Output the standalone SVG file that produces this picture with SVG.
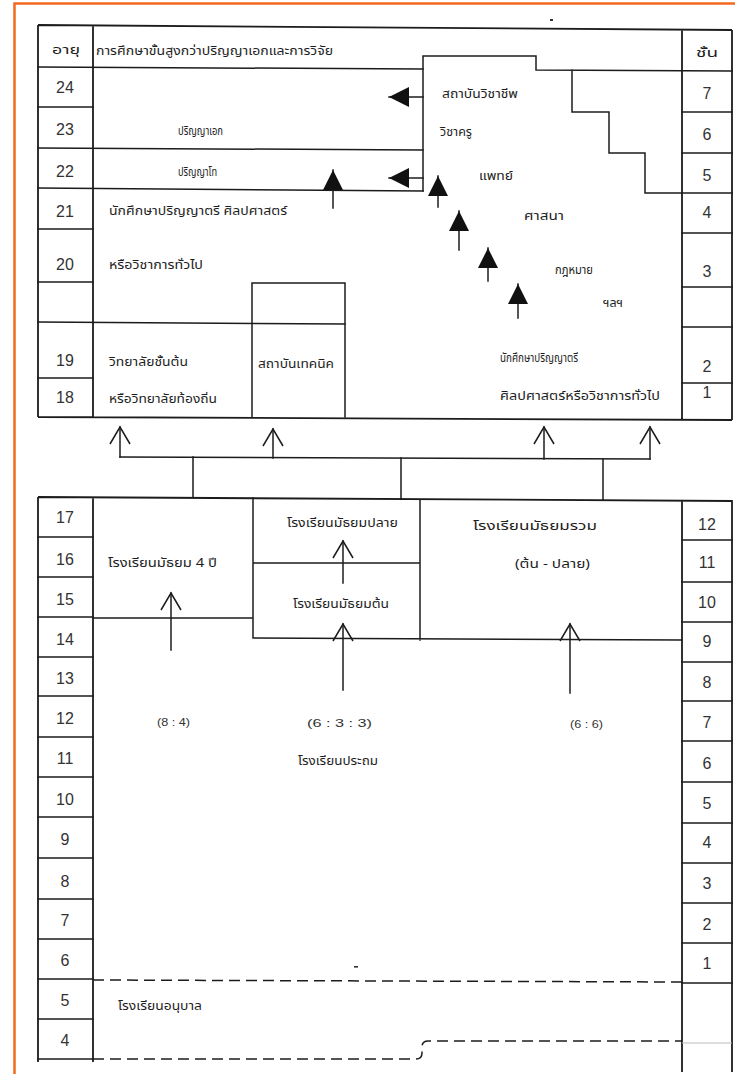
<svg xmlns="http://www.w3.org/2000/svg" width="735" height="1074" viewBox="0 0 735 1074">
<style>
.ln{stroke:#1c1c1c;stroke-width:1.5;fill:none;stroke-linecap:square}
.fr{stroke:#1c1c1c;stroke-width:1.8;fill:none}
.dsh{stroke:#1c1c1c;stroke-width:1.5;fill:none;stroke-dasharray:11 6}
.num{font-family:"Liberation Sans",Arial,sans-serif;font-size:16px;fill:#333;text-anchor:middle}
.th{font-family:"Noto Sans Thai","Noto Sans Thai Looped","Loma","Garuda","Norasi","Kinnari","Tlwg Typo","DejaVu Sans","Noto Sans",sans-serif;font-size:12px;fill:#1e1e1e}
.pr{font-family:"Liberation Sans",Arial,sans-serif;font-size:11px;fill:#333}
</style>
<defs>
<marker id="open" viewBox="-20 -12 22 24" refX="0" refY="0" markerWidth="22" markerHeight="24" markerUnits="userSpaceOnUse" orient="auto">
<path d="M-17,-10 L0,0 L-17,10" fill="none" stroke="#1c1c1c" stroke-width="1.5"/>
</marker>
<marker id="solid" viewBox="-21 -11 22 22" refX="0" refY="0" markerWidth="22" markerHeight="22" markerUnits="userSpaceOnUse" orient="auto">
<path d="M-20,-10 L0,0 L-20,10 Z" fill="#111"/>
</marker>
</defs>
<rect width="735" height="1074" fill="#fff"/>
<rect x="14.5" y="3.5" width="730" height="1080" fill="none" stroke="#F26A1E" stroke-width="2.5"/>

<g id="top-section">
<path class="fr" d="M38,25 L732,30 M38,25 V417 M93,25 V417 M682,30 V420 M732,30 V420 M38,417 L732,420"/>
<path class="ln" d="M38,67 L423,69 M38,107 H93 M38,148 L423,150 M38,188 L423,191 M38,229 H93 M38,282 H93 M38,322 L345,324 M38,378 H93"/>
<path class="ln" d="M423,191 V56 H536 V70 L732,71 M572,70 V112 H609 V153 H645 V193 H682"/>
<path class="ln" d="M682,112 H732 M682,153 H732 M682,193 H732 M682,233 H732 M682,287 H732 M682,327 H732 M682,383 H732"/>
<path class="ln" d="M252,417 V283 H345 V417"/>
<rect x="550" y="19" width="3" height="2" fill="#333"/>
</g>

<g id="top-labels">
<text class="th" x="66" y="54" text-anchor="middle" font-size="14" textLength="28" lengthAdjust="spacingAndGlyphs">อายุ</text>
<text class="th" x="96" y="55" textLength="237" lengthAdjust="spacingAndGlyphs">การศึกษาขั้นสูงกว่าปริญญาเอกและการวิจัย</text>
<text class="th" x="707" y="57" text-anchor="middle" font-size="14" textLength="22" lengthAdjust="spacingAndGlyphs">ชั้น</text>
<text class="num" x="65" y="93">24</text>
<text class="num" x="65" y="135">23</text>
<text class="num" x="65" y="177">22</text>
<text class="num" x="65" y="217">21</text>
<text class="num" x="65" y="270">20</text>
<text class="num" x="65" y="366">19</text>
<text class="num" x="65" y="403">18</text>
<text class="num" x="707" y="99">7</text>
<text class="num" x="707" y="140">6</text>
<text class="num" x="707" y="181">5</text>
<text class="num" x="707" y="218">4</text>
<text class="num" x="707" y="277">3</text>
<text class="num" x="707" y="372">2</text>
<text class="num" x="707" y="398">1</text>
</g>

<g id="node-phd"><text class="th" x="178" y="135" textLength="45" lengthAdjust="spacingAndGlyphs">ปริญญาเอก</text></g>
<g id="node-master"><text class="th" x="178" y="176" textLength="39" lengthAdjust="spacingAndGlyphs">ปริญญาโท</text></g>
<g id="node-bachelor-arts">
<text class="th" x="109" y="215" textLength="178" lengthAdjust="spacingAndGlyphs">นักศึกษาปริญญาตรี ศิลปศาสตร์</text>
<text class="th" x="109" y="269" textLength="94" lengthAdjust="spacingAndGlyphs">หรือวิชาการทั่วไป</text>
</g>
<g id="node-professional">
<text class="th" x="442" y="98" textLength="76" lengthAdjust="spacingAndGlyphs">สถาบันวิชาชีพ</text>
<text class="th" x="440" y="136" textLength="32" lengthAdjust="spacingAndGlyphs">วิชาครู</text>
<text class="th" x="479" y="180" textLength="34" lengthAdjust="spacingAndGlyphs">แพทย์</text>
<text class="th" x="524" y="220" textLength="40" lengthAdjust="spacingAndGlyphs">ศาสนา</text>
<text class="th" x="555" y="274" textLength="38" lengthAdjust="spacingAndGlyphs">กฎหมาย</text>
<text class="th" x="603" y="307" textLength="20" lengthAdjust="spacingAndGlyphs">ฯลฯ</text>
</g>
<g id="node-college">
<text class="th" x="109" y="366" textLength="79" lengthAdjust="spacingAndGlyphs">วิทยาลัยชั้นต้น</text>
<text class="th" x="109" y="403" textLength="108" lengthAdjust="spacingAndGlyphs">หรือวิทยาลัยท้องถิ่น</text>
</g>
<g id="node-technical"><text class="th" x="258" y="368" textLength="76" lengthAdjust="spacingAndGlyphs">สถาบันเทคนิค</text></g>
<g id="node-bachelor-general">
<text class="th" x="500" y="362" textLength="78" lengthAdjust="spacingAndGlyphs">นักศึกษาปริญญาตรี</text>
<text class="th" x="500" y="400" textLength="160" lengthAdjust="spacingAndGlyphs">ศิลปศาสตร์หรือวิชาการทั่วไป</text>
</g>

<g id="bottom-section">
<path class="fr" d="M38,497 L732,501 M38,497 V1062 M93,497 V1062 M682,500 V1072 M732,500 V1072"/>
<path class="ln" d="M38,537 H93 M38,577 H93 M38,617 H93 M38,657 H93 M38,696 H93 M38,737 H93 M38,777 H93 M38,817 H93 M38,858 H93 M38,899 H93 M38,939 H93 M38,979 H93 M38,1019 H93 M38,1059 H93"/>
<path class="ln" d="M682,540 H732 M682,582 H732 M682,622 H732 M682,662 H732 M682,701 H732 M682,741 H732 M682,782 H732 M682,823 H732 M682,863 H732 M682,903 H732 M682,943 H732 M682,983 H732"/>
<path d="M682,1043 H732" stroke="#bbb" stroke-width="1.2"/>
<path class="ln" d="M93,618 H253 M253,498 V638 L682,640 M253,563 H420 M420,500 V640"/>
<path class="dsh" d="M93,980 L682,982"/>
<path class="dsh" d="M93,1059 H416 Q422,1059 422,1053 V1047 Q422,1041 428,1041 H682"/>
<rect x="354" y="966" width="4" height="1.6" fill="#333"/>
</g>

<g id="bottom-labels">
<text class="num" x="65" y="523">17</text>
<text class="num" x="65" y="565">16</text>
<text class="num" x="65" y="605">15</text>
<text class="num" x="65" y="645">14</text>
<text class="num" x="65" y="684">13</text>
<text class="num" x="65" y="724">12</text>
<text class="num" x="65" y="764">11</text>
<text class="num" x="65" y="805">10</text>
<text class="num" x="65" y="845">9</text>
<text class="num" x="65" y="887">8</text>
<text class="num" x="65" y="926">7</text>
<text class="num" x="65" y="966">6</text>
<text class="num" x="65" y="1006">5</text>
<text class="num" x="65" y="1046">4</text>
<text class="num" x="707" y="530">12</text>
<text class="num" x="707" y="568">11</text>
<text class="num" x="707" y="608">10</text>
<text class="num" x="707" y="647">9</text>
<text class="num" x="707" y="688">8</text>
<text class="num" x="707" y="728">7</text>
<text class="num" x="707" y="769">6</text>
<text class="num" x="707" y="809">5</text>
<text class="num" x="707" y="848">4</text>
<text class="num" x="707" y="889">3</text>
<text class="num" x="707" y="930">2</text>
<text class="num" x="707" y="969">1</text>
</g>

<g id="node-secondary4"><text class="th" x="108" y="567" textLength="109" lengthAdjust="spacingAndGlyphs">โรงเรียนมัธยม 4 ปี</text></g>
<g id="node-upper-secondary"><text class="th" x="287" y="527" textLength="111" lengthAdjust="spacingAndGlyphs">โรงเรียนมัธยมปลาย</text></g>
<g id="node-lower-secondary"><text class="th" x="293" y="608" textLength="96" lengthAdjust="spacingAndGlyphs">โรงเรียนมัธยมต้น</text></g>
<g id="node-comprehensive">
<text class="th" x="473" y="530" textLength="124" lengthAdjust="spacingAndGlyphs">โรงเรียนมัธยมรวม</text>
<text class="th" x="515" y="568" textLength="75" lengthAdjust="spacingAndGlyphs">(ต้น - ปลาย)</text>
</g>
<g id="node-primary">
<text class="pr" x="157" y="726" textLength="33" lengthAdjust="spacingAndGlyphs">(8 : 4)</text>
<text class="pr" x="307" y="727" font-size="16" textLength="65" lengthAdjust="spacingAndGlyphs">(6 : 3 : 3)</text>
<text class="pr" x="570" y="728" textLength="33" lengthAdjust="spacingAndGlyphs">(6 : 6)</text>
<text class="th" x="298" y="765" textLength="80" lengthAdjust="spacingAndGlyphs">โรงเรียนประถม</text>
</g>
<g id="node-kindergarten"><text class="th" x="118" y="1010" textLength="84" lengthAdjust="spacingAndGlyphs">โรงเรียนอนุบาล</text></g>

<g id="connectors">
<path class="ln" d="M423,97 L389,97" marker-end="url(#solid)"/>
<path class="ln" d="M423,178 L389,178" marker-end="url(#solid)"/>
<path class="ln" d="M333,208 V170" marker-end="url(#solid)"/>
<path class="ln" d="M438,207 V176" marker-end="url(#solid)"/>
<path class="ln" d="M459,250 V211" marker-end="url(#solid)"/>
<path class="ln" d="M488,281 V248" marker-end="url(#solid)"/>
<path class="ln" d="M518,318 V284" marker-end="url(#solid)"/>
<path class="ln" d="M120,457 L650,459"/>
<path class="ln" d="M120,457 V427" marker-end="url(#open)"/>
<path class="ln" d="M273,458 V429" marker-end="url(#open)"/>
<path class="ln" d="M544,459 V427" marker-end="url(#open)"/>
<path class="ln" d="M650,459 V427" marker-end="url(#open)"/>
<path class="ln" d="M193,457 V497 M401,458 V499 M603,459 V500"/>
<path class="ln" d="M171,650 V593" marker-end="url(#open)"/>
<path class="ln" d="M343,583 V541" marker-end="url(#open)"/>
<path class="ln" d="M343,690 V624" marker-end="url(#open)"/>
<path class="ln" d="M570,693 V624" marker-end="url(#open)"/>
</g>
</svg>
